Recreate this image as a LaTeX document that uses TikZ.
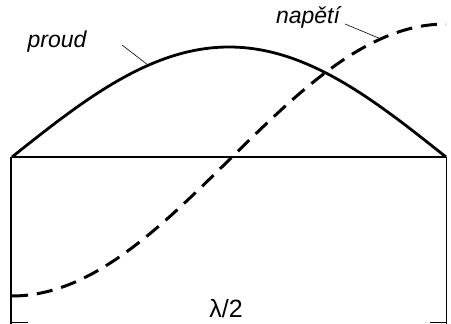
\documentclass[tikz,border=0pt]{standalone}
\usepackage{fontspec}
\setmainfont{Liberation Sans}
\begin{document}
\begin{tikzpicture}[x=1pt,y=1pt,
  curve/.style={line width=2.8pt},
  dashcurve/.style={line width=3pt,dash pattern=on 16pt off 9pt},
  axis/.style={line width=1.6pt},
  thinline/.style={line width=0.9pt},
  leader/.style={line width=0.6pt},
  lbl/.style={font=\fontsize{23}{25}\selectfont\itshape, inner sep=0pt}]
\useasboundingbox (0,0) rectangle (451,324);
% frame (y measured upward: y = 324 - image row)
\coordinate (L) at (12,167);
\coordinate (R) at (446,167);
\coordinate (LB) at (11,0);
\coordinate (RB) at (446,0);
\draw[axis] (L) -- (R);
\draw[axis] (11,167) -- (LB);
\draw[thinline] (R) -- (RB);
% current (solid)
\draw[curve] plot[variable=\t, domain=0:180, samples=120] ({12+2.41111*\t}, {167+110*sin(\t)});
% voltage (dashed)
\draw[dashcurve] plot[variable=\t, domain=0:180, samples=120] ({12+2.41111*\t}, {164-136*cos(\t)});
% labels
\node[lbl] (proud) at (57,282) {proud};
\node[lbl] (napeti) at (308,307) {napětí};
\coordinate (ps) at (122,279);
\coordinate (pc) at (148,259);
\coordinate (ns) at (345,300);
\coordinate (nc) at (381,285);
\draw[leader] (ps) -- (pc);
\draw[leader] (ns) -- (nc);
% dimension
\node[lbl, font=\fontsize{25}{27}\selectfont] (lam) at (226,15) {λ/2};
\coordinate (dl) at (12,2);
\coordinate (dr) at (446,2);
\draw[thinline] (dl) -- ++(16,0);
\draw[thinline] (dr) -- ++(-16,0);
\end{tikzpicture}
\end{document}
